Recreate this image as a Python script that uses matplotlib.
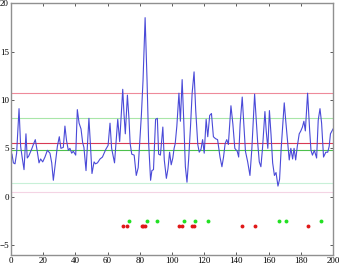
import numpy as np
import matplotlib
matplotlib.use('Agg')
import matplotlib.pyplot as plt

# signal (x, value)
sig_x = [0.6, 1.5, 2.5, 3.5, 5, 6, 7, 8.1, 9.3, 10.1, 11, 11.8, 12.8, 13.9, 15.1, 16.4, 17.4,
         18.4, 19.7, 21.1, 22.6, 24.2, 25.3, 26.3, 27.3, 28.8, 30, 31, 32.5, 33.5, 34.5, 35.6,
         36.6, 37.7, 38.7, 40.2, 41.2, 42.3, 43.5, 44.5, 45.3, 46.6, 48.4, 49.3, 50.3, 51.6,
         52.5, 53.7, 55.3, 56.8, 58.9, 60.3, 61.5, 62.5, 64.3, 66.3, 67.5, 69.4, 70.2, 71,
         72.3, 73.3, 74, 75, 76.5, 77.8, 79, 80, 81, 82, 83.3, 84.5, 85.5, 86.7, 87.5, 88.5,
         89.8, 90.9, 91.7, 92.8, 94.3, 95.2, 96.5, 97.5, 98.5, 99.5, 100.5, 101.3, 102, 103,
         104.3, 105.2, 106.3, 107.3, 108.3, 109.3, 110.3, 111.5, 112.5, 113.7, 114.7, 116,
         116.9, 118, 119, 120, 121.2, 122.2, 123.4, 124.5, 125.7, 127, 128.3, 129.8, 131, 132,
         133, 134, 135, 136.6, 137.8, 139, 140.5, 141.4, 142.3, 143.6, 144.6, 145.6, 147,
         148.4, 149.6, 151.3, 152.2, 153.2, 154.2, 155.2, 156.2, 157.7, 158.5, 159.5, 160.5,
         161.5, 162.5, 163.6, 164.6, 165.8, 166.8, 167.8, 169.7, 170.6, 171.7, 172.8, 173.8,
         174.9, 175.8, 176.8, 177.8, 179, 180, 181, 181.9, 182.8, 184.2, 185.5, 186.3, 187.2,
         188.4, 189.8, 190.8, 191.9, 192.9, 194.1, 195.5, 196.7, 197.6, 198.4, 200]
sig_y = [4.4, 3.5, 3.4, 4.5, 9.1, 5.2, 4.0, 2.8, 6.5, 4.0, 4.2, 4.5, 4.9, 5.4, 5.9, 4.6, 3.5,
         3.9, 3.6, 4.1, 4.8, 4.5, 3.5, 1.7, 3.1, 5.2, 6.2, 5.0, 5.1, 7.3, 5.8, 4.8,
         5.0, 4.5, 4.7, 4.3, 9.0, 7.6, 7.0, 5.6, 5.1, 2.7, 8.1, 5.5, 2.4, 3.6,
         3.4, 3.5, 3.9, 4.1, 4.9, 5.3, 7.6, 5.0, 3.5, 8.0, 5.7, 11.1, 8.5, 6.5,
         10.5, 8.0, 5.5, 4.4, 4.3, 2.2, 3.0, 5.8, 8.5, 12.0, 18.5, 12.0, 5.5, 1.7, 2.7, 2.8,
         8.0, 8.1, 4.4, 4.3, 7.2, 3.8, 1.9, 2.9, 4.6, 3.3, 4.0, 5.0, 5.5, 7.3,
         10.7, 7.8, 12.1, 7.8, 3.1, 1.5, 3.8, 7.3, 10.7, 12.9, 9.0, 5.4,
         4.6, 4.9, 5.9, 4.5, 8.0, 6.2, 8.4, 8.6, 6.2, 6.0, 5.9, 4.1, 3.1, 4.1,
         5.5, 5.9, 5.4, 9.4, 7.5, 5.0, 4.7, 4.1, 7.5, 10.3, 7.5, 4.7, 3.6,
         2.2, 5.0, 10.6, 8.3, 5.6, 3.6, 3.1, 5.0, 8.8, 6.8, 5.0, 8.9,
         6.4, 3.5, 2.2, 2.5, 1.1, 1.8, 5.0, 9.7, 7.9, 5.9, 3.8, 5.0,
         3.9, 5.0, 3.8, 5.2, 6.5, 6.8, 7.2, 7.8, 6.8, 10.7, 6.8, 4.8, 4.3,
         4.8, 4.0, 7.9, 9.1, 7.6, 4.1, 4.6, 4.6, 5.2, 6.5, 7.0]

# horizontal reference levels
levels = [10.75, 8.1, 5.6, 4.8, 1.4, 0.5]
level_colors = ['#ee8a9a', '#a8e6a8', '#d83a55', '#4cc04c', '#c8f0d8', '#f4d4e4']

# event markers
red_x = [69.4, 72.3, 81.2, 82.2, 83.2, 104.6, 106.2, 112.4, 113.5, 143.5, 151.6, 184.5]
red_y = -3.0
green_x = [73.5, 84.3, 90.5, 107.5, 114.5, 122.4, 166.5, 170.6, 192.5]
green_y = -2.5

plt.rcParams['font.family'] = ['Liberation Serif', 'DejaVu Serif']

fig = plt.figure(figsize=(3.39, 2.70), dpi=100)
ax = fig.add_axes([0.0324, 0.0544, 0.950, 0.934])

for lv, c in zip(levels, level_colors):
    ax.axhline(lv, color=c, lw=0.8, zorder=1)

ax.plot(sig_x, sig_y, color='#4a4ad8', lw=0.8, zorder=2)

ax.plot(red_x, [red_y] * len(red_x), 'o', color='#e01818', ms=2.8, mec='none', zorder=3)
ax.plot(green_x, [green_y] * len(green_x), 'o', color='#22e022', ms=2.8, mec='none', zorder=3)

ax.set_xlim(0, 200)
ax.set_ylim(-6.05, 20)
ax.set_xticks(np.arange(0, 201, 20))
ax.set_yticks([-5, 0, 5, 10, 15, 20])

for s in ax.spines.values():
    s.set_color('#909090')
    s.set_linewidth(1.0)
ax.tick_params(direction='in', length=2.5, width=0.6, color='#404040',
               top=True, right=True, labelsize=6.5, pad=1.5)

fig.savefig('out.png', dpi=100)
